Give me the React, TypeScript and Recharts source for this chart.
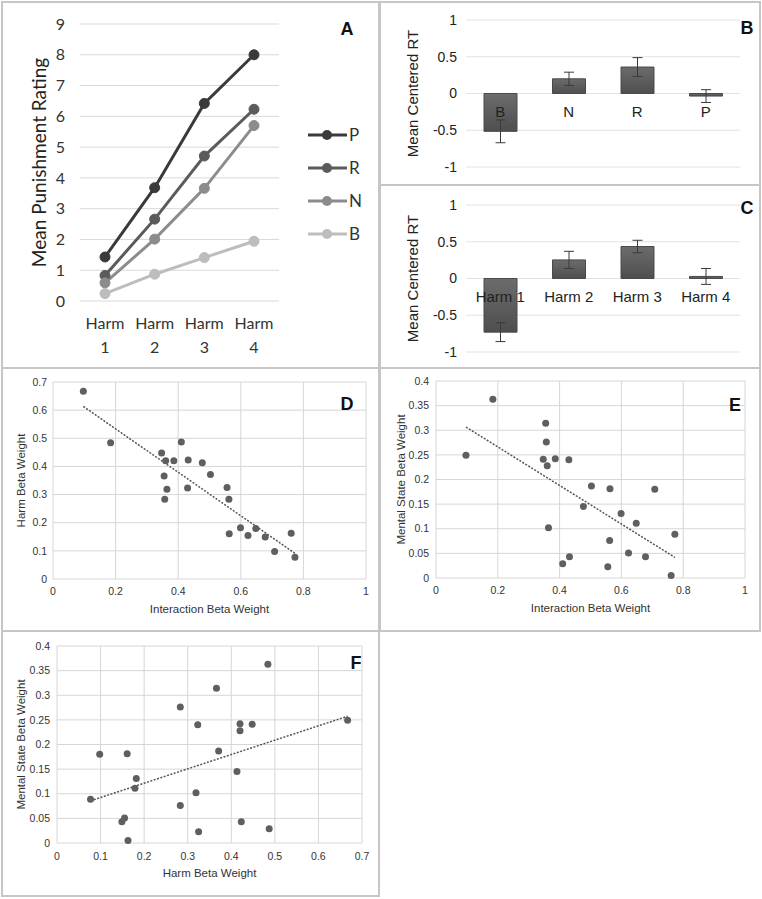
import React from 'react';
import {
  LineChart, Line, BarChart, Bar, ErrorBar, ScatterChart, Scatter,
  XAxis, YAxis, CartesianGrid, Legend, Label, ReferenceLine,
} from 'recharts';

// Panel A: mean punishment rating by harm level, one line per mental state
const harmLevels = ['Harm 1', 'Harm 2', 'Harm 3', 'Harm 4'];
const punishP = [1.43, 3.68, 6.42, 8.0];
const punishR = [0.83, 2.66, 4.71, 6.23];
const punishN = [0.59, 2.01, 3.66, 5.7];
const punishB = [0.24, 0.87, 1.41, 1.94];
const punishTicks = [0, 1, 2, 3, 4, 5, 6, 7, 8, 9];
const seriesOrder = ['P', 'R', 'N', 'B'] as const;

// Panel B: centered RT by mental state
const mentalStates = ['B', 'N', 'R', 'P'];
const mentalRT = [-0.515, 0.2, 0.36, -0.035];
const mentalRTErr = [0.155, 0.09, 0.128, 0.087];

// Panel C: centered RT by harm level
const harmRT = [-0.73, 0.253, 0.435, 0.028];
const harmRTErr = [0.128, 0.117, 0.085, 0.108];
const rtTicks = [-1, -0.5, 0, 0.5, 1];

// Panels D-F: per-participant beta weights
const interactionBeta = [0.097, 0.184, 0.347, 0.355, 0.357, 0.36, 0.364, 0.386, 0.41, 0.43, 0.432, 0.477, 0.503, 0.556, 0.562, 0.563, 0.599, 0.623, 0.648, 0.678, 0.708, 0.761, 0.773];
const harmBeta = [0.667, 0.484, 0.448, 0.366, 0.283, 0.42, 0.319, 0.42, 0.487, 0.323, 0.423, 0.413, 0.371, 0.325, 0.283, 0.161, 0.182, 0.155, 0.179, 0.149, 0.098, 0.163, 0.077];
const mentalBeta = [0.249, 0.363, 0.241, 0.314, 0.276, 0.228, 0.102, 0.242, 0.029, 0.24, 0.043, 0.145, 0.187, 0.023, 0.076, 0.181, 0.131, 0.051, 0.111, 0.043, 0.18, 0.005, 0.089];

const interactionTicks = [0, 0.2, 0.4, 0.6, 0.8, 1];
const harmBetaTicks = [0, 0.1, 0.2, 0.3, 0.4, 0.5, 0.6, 0.7];
const mentalBetaTicks = [0, 0.05, 0.1, 0.15, 0.2, 0.25, 0.3, 0.35, 0.4];

const lineColors = { P: '#3a3a3a', R: '#5b5b5b', N: '#8c8c8c', B: '#bdbdbd' };
const SANS = '"Liberation Sans", Arial, sans-serif';
const CALI = 'Lato, "Noto Sans", sans-serif';

const punishData = harmLevels.map((h, i) => ({
  harm: h, P: punishP[i], R: punishR[i], N: punishN[i], B: punishB[i],
}));
const mentalData = mentalStates.map((m, i) => ({ cat: m, rt: mentalRT[i], err: mentalRTErr[i] }));
const harmData = harmLevels.map((h, i) => ({ cat: h, rt: harmRT[i], err: harmRTErr[i] }));

const pairs = (xs: number[], ys: number[]) => xs.map((x, i) => ({ x, y: ys[i] }));

// least squares trend line drawn between the smallest and largest x
function trend(xs: number[], ys: number[]) {
  const n = xs.length;
  const mx = xs.reduce((a, b) => a + b, 0) / n;
  const my = ys.reduce((a, b) => a + b, 0) / n;
  let sxy = 0, sxx = 0;
  xs.forEach((x, i) => { sxy += (x - mx) * (ys[i] - my); sxx += (x - mx) * (x - mx); });
  const slope = sxy / sxx;
  const x0 = Math.min(...xs), x1 = Math.max(...xs);
  return [{ x: x0, y: my + slope * (x0 - mx) }, { x: x1, y: my + slope * (x1 - mx) }];
}

function HarmTick({ x, y, payload }: any) {
  const [word, num] = String(payload.value).split(' ');
  return (
    <g fontFamily={CALI} fontSize={16} fill="#333">
      <text x={x} y={y + 28} textAnchor="middle">{word}</text>
      <text x={x} y={y + 52} textAnchor="middle">{num}</text>
    </g>
  );
}

// category labels sit just under the zero line, like Excel's "low" axis position
const zeroTick = (plotH: number) => ({ x, y, payload }: any) => (
  <text x={x} y={y - plotH / 2 + 23} textAnchor="middle" fontSize={15} fontFamily={SANS} fill="#222">
    {payload.value}
  </text>
);

function PunishLegend({ payload }: any) {
  const items = seriesOrder.map((k) => payload.find((p: any) => p.value === k)).filter(Boolean);
  return (
    <div style={{ fontFamily: CALI }}>
      {items.map((item: any) => (
        <div key={item.value} style={{ display: 'flex', alignItems: 'center', height: 33 }}>
          <svg width={42} height={14}>
            <line x1={2} y1={7} x2={41} y2={7} stroke={item.color} strokeWidth={3} />
            <circle cx={21} cy={7} r={5} fill={item.color} />
          </svg>
          <span style={{ fontSize: 17, color: '#333', marginLeft: 1 }}>{item.value}</span>
        </div>
      ))}
    </div>
  );
}

const dot = (p: any) => <circle cx={p.cx} cy={p.cy} r={3.5} fill="#5f5f5f" />;

function RTChart({ data, top, height, marginTop, plotH }: any) {
  return (
    <div style={{ position: 'absolute', left: 380, top }}>
      <BarChart width={380} height={height} data={data} margin={{ top: marginTop, right: 20, left: 0, bottom: 0 }}>
        <defs>
          <linearGradient id="rtBar" x1="0" y1="0" x2="0" y2="1">
            <stop offset="0%" stopColor="#6c6c6c" />
            <stop offset="100%" stopColor="#4e4e4e" />
          </linearGradient>
        </defs>
        <CartesianGrid vertical={false} stroke="#e2e2e2" />
        <XAxis dataKey="cat" axisLine={false} tickLine={false} tickSize={0} tickMargin={0} height={16}
          tick={zeroTick(plotH)} interval={0} />
        <YAxis domain={[-1, 1]} ticks={rtTicks} axisLine={false} tickLine={false} tickSize={0} tickMargin={9}
          width={86} tick={{ fontSize: 14, fill: '#222', fontFamily: SANS }}>
          <Label value="Mean Centered RT" angle={-90} position="insideLeft" offset={33}
            style={{ textAnchor: 'middle', fontSize: 15, fill: '#222', fontFamily: SANS }} />
        </YAxis>
        <Bar dataKey="rt" fill="url(#rtBar)" stroke="#4a4a4a" barSize={33} isAnimationActive={false}>
          <ErrorBar dataKey="err" width={5} stroke="#3a3a3a" strokeWidth={1} />
        </Bar>
      </BarChart>
    </div>
  );
}

function BetaScatter({ left, top, width, height, margin, yWidth, xs, ys, xTicks, yTicks, xLabel, yLabel, xTickMargin, yTickMargin }: any) {
  const [p0, p1] = trend(xs, ys);
  const tickStyle = { fontSize: 10.5, fill: '#333', fontFamily: SANS };
  return (
    <div style={{ position: 'absolute', left, top }}>
      <ScatterChart width={width} height={height} margin={margin}>
        <CartesianGrid stroke="#d6d6d6" />
        <XAxis type="number" dataKey="x" domain={[xTicks[0], xTicks[xTicks.length - 1]]} ticks={xTicks}
          axisLine={false} tickLine={false} tickSize={0} tickMargin={xTickMargin} height={40} tick={tickStyle}>
          <Label value={xLabel} position="insideBottom" offset={6}
            style={{ fontSize: 11.5, fill: '#333', fontFamily: SANS }} />
        </XAxis>
        <YAxis type="number" dataKey="y" domain={[yTicks[0], yTicks[yTicks.length - 1]]} ticks={yTicks}
          axisLine={false} tickLine={false} tickSize={0} tickMargin={yTickMargin} width={yWidth} tick={tickStyle}>
          <Label value={yLabel} angle={-90} position="insideLeft" offset={21}
            style={{ textAnchor: 'middle', fontSize: 11.5, fill: '#333', fontFamily: SANS }} />
        </YAxis>
        <ReferenceLine segment={[p0, p1]} stroke="#555" strokeWidth={1.5} strokeDasharray="2 1.5" ifOverflow="visible" />
        <Scatter data={pairs(xs, ys)} shape={dot} isAnimationActive={false} />
      </ScatterChart>
    </div>
  );
}

const boxes = [
  { left: 1, top: 1, width: 379, height: 368 },
  { left: 379, top: 1, width: 382, height: 185 },
  { left: 379, top: 184, width: 382, height: 185 },
  { left: 1, top: 367, width: 379, height: 265 },
  { left: 379, top: 367, width: 382, height: 265 },
  { left: 1, top: 630, width: 379, height: 267 },
];

const letters = [
  { t: 'A', x: 347, y: 29 },
  { t: 'B', x: 747, y: 28 },
  { t: 'C', x: 747, y: 208 },
  { t: 'D', x: 347, y: 404 },
  { t: 'E', x: 735, y: 405 },
  { t: 'F', x: 356, y: 663 },
];

export default function App() {
  return (
    <div style={{ position: 'absolute', left: 0, top: 0, width: 762, height: 899, background: '#fff', overflow: 'hidden' }}>
      {boxes.map((b, i) => (
        <div key={i} style={{ position: 'absolute', ...b, boxSizing: 'border-box', border: '2px solid #c6c6c6' }} />
      ))}

      <div style={{ position: 'absolute', left: 0, top: 0 }}>
        <LineChart width={380} height={370} data={punishData} margin={{ top: 24, right: 101, left: 0, bottom: 19 }}>
          <CartesianGrid vertical={false} stroke="#d9d9d9" />
          <XAxis dataKey="harm" axisLine={false} tickLine={false} tickSize={0} tickMargin={0} height={50}
            padding={{ left: 25, right: 25 }} tick={<HarmTick />} interval={0} />
          <YAxis domain={[0, 9]} ticks={punishTicks} axisLine={false} tickLine={false} tickSize={0} tickMargin={15}
            width={80} tick={{ fontSize: 16, fill: '#333', fontFamily: CALI }}>
            <Label value="Mean Punishment Rating" angle={-90} position="insideLeft" offset={39}
              style={{ textAnchor: 'middle', fontSize: 19, fill: '#222', fontFamily: CALI }} />
          </YAxis>
          <Legend layout="vertical" align="center" verticalAlign="middle"
            wrapperStyle={{ left: 306, top: 118, width: 70 }} content={<PunishLegend />} />
          {seriesOrder.map((k) => (
            <Line key={k} dataKey={k} stroke={lineColors[k]} strokeWidth={3}
              dot={{ r: 5, fill: lineColors[k], stroke: lineColors[k], strokeWidth: 1 }}
              isAnimationActive={false} />
          ))}
        </LineChart>
      </div>

      <RTChart data={mentalData} top={2} height={181} marginTop={18} plotH={147} />
      <RTChart data={harmData} top={186} height={182} marginTop={19} plotH={146} />

      <BetaScatter left={0} top={370} width={380} height={260} margin={{ top: 12, right: 14, left: 0, bottom: 11 }}
        yWidth={53} xs={interactionBeta} ys={harmBeta} xTicks={interactionTicks} yTicks={harmBetaTicks}
        xLabel="Interaction Beta Weight" yLabel="Harm Beta Weight" xTickMargin={9} yTickMargin={6} />
      <BetaScatter left={380} top={370} width={382} height={260} margin={{ top: 11, right: 17, left: 0, bottom: 12 }}
        yWidth={56} xs={interactionBeta} ys={mentalBeta} xTicks={interactionTicks} yTicks={mentalBetaTicks}
        xLabel="Interaction Beta Weight" yLabel="Mental State Beta Weight" xTickMargin={9} yTickMargin={7} />
      <BetaScatter left={0} top={630} width={380} height={269} margin={{ top: 16, right: 18, left: 0, bottom: 16 }}
        yWidth={57} xs={harmBeta} ys={mentalBeta} xTicks={harmBetaTicks} yTicks={mentalBetaTicks}
        xLabel="Harm Beta Weight" yLabel="Mental State Beta Weight" xTickMargin={10} yTickMargin={7} />

      {letters.map((l) => (
        <div key={l.t} style={{
          position: 'absolute', left: l.x - 10, top: l.y - 12, width: 20, height: 24, lineHeight: '24px',
          textAlign: 'center', fontFamily: SANS, fontWeight: 700, fontSize: 18, color: '#111',
        }}>{l.t}</div>
      ))}
    </div>
  );
}
